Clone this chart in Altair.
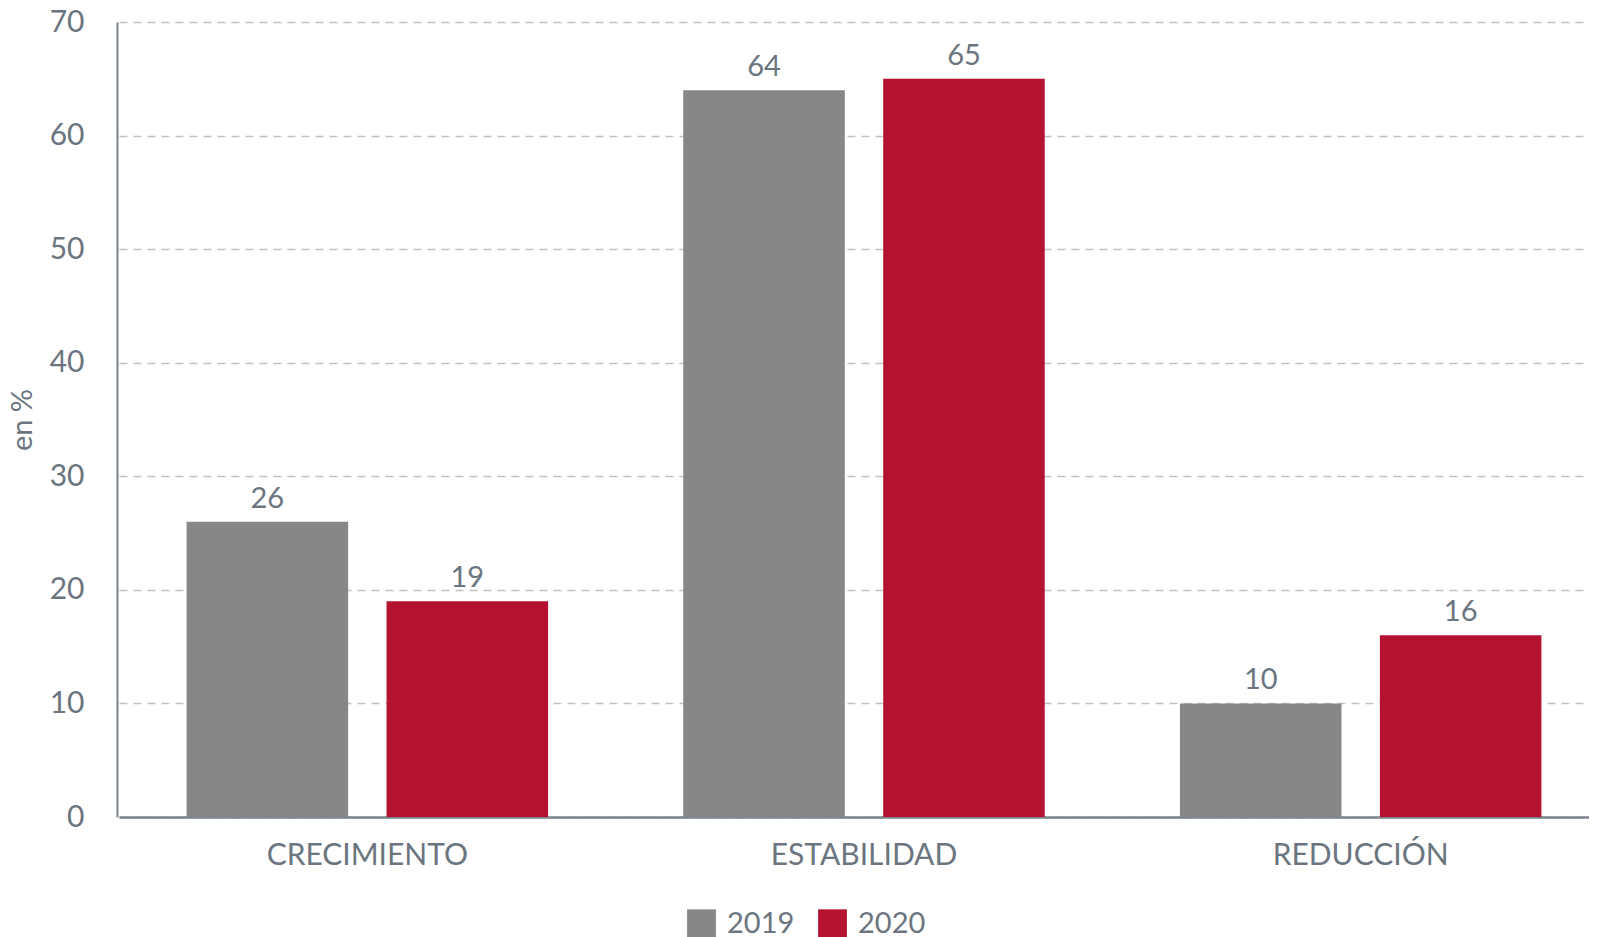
import altair as alt
import pandas as pd

categories = ["CRECIMIENTO", "ESTABILIDAD", "REDUCCIÓN"]
years = ["2019", "2020"]
values_2019 = [26, 64, 10]
values_2020 = [19, 65, 16]
colors = ["#878787", "#B41330"]
y_ticks = [0, 10, 20, 30, 40, 50, 60, 70]

rows = []
for c, v in zip(categories, values_2019):
    rows.append({"cat": c, "year": "2019", "value": v})
for c, v in zip(categories, values_2020):
    rows.append({"cat": c, "year": "2020", "value": v})
df = pd.DataFrame(rows)

TXT = "#6b7580"
FONT = "Lato"

x = alt.X("cat:N", sort=categories, title=None,
          scale=alt.Scale(paddingInner=0, paddingOuter=0, range=[2, 1492]),
          axis=alt.Axis(labelAngle=0, labelFontSize=30, labelColor=TXT, labelFont=FONT,
                        labelLimit=400, labelPadding=23, ticks=False,
                        domainColor="#7a828b", domainWidth=2.5))
xo = alt.XOffset("year:N", sort=years,
                 scale=alt.Scale(paddingInner=0.192, paddingOuter=0.338))
y = alt.Y("value:Q", title="en %",
          scale=alt.Scale(domain=[0, 70], nice=False),
          axis=alt.Axis(values=y_ticks, labelFontSize=30, labelColor=TXT, labelFont=FONT,
                        labelPadding=33, ticks=False, domainColor="#7a828b", domainWidth=2,
                        gridColor="#bfc1c4", gridDash=[8, 6], gridWidth=1.5,
                        titleFontSize=29, titleColor=TXT, titleFont=FONT, titleFontWeight="normal",
                        titlePadding=12))

bars = alt.Chart(df).mark_bar().encode(
    x=x, xOffset=xo, y=y,
    color=alt.Color("year:N", sort=years,
                    scale=alt.Scale(domain=years, range=colors),
                    legend=alt.Legend(title=None, orient="none", legendX=570, legendY=887,
                                      direction="horizontal", symbolType="square",
                                      symbolSize=830, symbolStrokeWidth=0, symbolOpacity=1,
                                      labelFontSize=29, labelColor=TXT, labelFont=FONT,
                                      labelOffset=11, columnPadding=23)),
)

labels = alt.Chart(df).mark_text(dy=-14, baseline="alphabetic", fontSize=29,
                                 color=TXT, font=FONT).encode(
    x=alt.X("cat:N", sort=categories), xOffset=alt.XOffset("year:N", sort=years),
    y="value:Q", text="value:Q",
)

chart = alt.layer(bars, labels).properties(
    width=1472, height=795,
    padding={"left": 109, "top": 14, "right": 0, "bottom": 125},
    autosize=alt.AutoSizeParams(type="none"),
).configure_view(stroke=None).configure_axisX(grid=False)

chart.save("out.html", embed_options={"renderer": "svg", "actions": False})
